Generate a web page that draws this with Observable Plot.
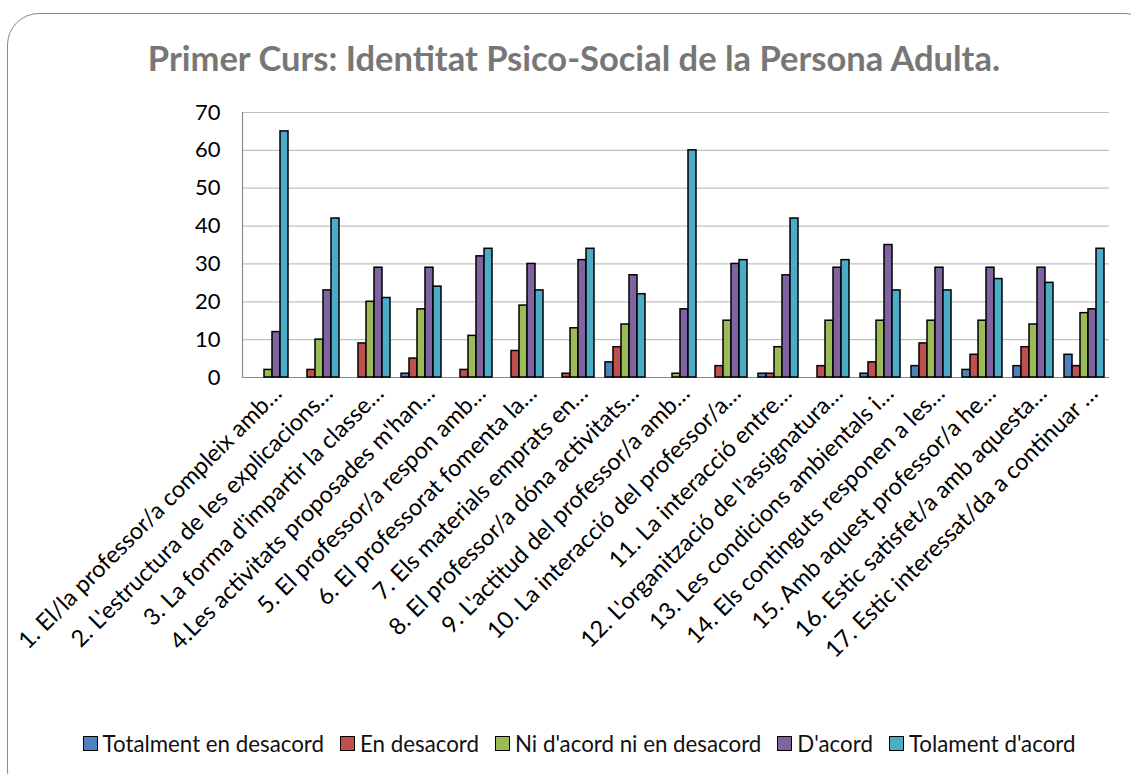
<!DOCTYPE html>
<html>
<head>
<meta charset="utf-8">
<script src="https://cdn.jsdelivr.net/npm/d3@7"></script>
<script src="https://cdn.jsdelivr.net/npm/@observablehq/plot@0.6"></script>
<style>
  html, body { margin: 0; padding: 0; background: #fff; }
  body { width: 1131px; height: 774px; position: relative; overflow: hidden; font-family: Lato, "Open Sans", sans-serif; }
  #box { position: absolute; left: 7px; top: 13px; width: 1150px; height: 790px; border: 1.5px solid #8a8a8a; border-radius: 32px; box-sizing: border-box; }
  #title { position: absolute; left: 0; width: 1148px; top: 40px; line-height: 36px; text-align: center; font-size: 34.5px; font-weight: bold; color: #777; white-space: nowrap; }
  #chart { position: absolute; left: 0; top: 90px; }
  #legend { position: absolute; left: 0; width: 1158px; top: 730px; display: flex; justify-content: center; align-items: center; font-size: 22.3px; color: #111; white-space: nowrap; }
  .item { display: flex; align-items: center; margin: 0 8px; }
  .sw { width: 13px; height: 13px; border: 1.5px solid #000; margin-right: 5px; }
</style>
</head>
<body>
<div id="box"></div>
<div id="title">Primer Curs: Identitat Psico-Social de la Persona Adulta.</div>
<div id="chart"></div>
<div id="legend"></div>
<script>
const questions = [
  "1. El/la professor/a compleix amb…",
  "2. L'estructura de les explicacions…",
  "3. La forma d'impartir la classe…",
  "4.Les activitats proposades m'han…",
  "5. El professor/a respon amb…",
  "6. El professorat fomenta la…",
  "7. Els materials emprats en…",
  "8. El professor/a dóna activitats…",
  "9. L'actitud del professor/a amb…",
  "10. La interacció del professor/a…",
  "11. La interacció entre…",
  "12. L'organització de l'assignatura…",
  "13. Les condicions ambientals i…",
  "14. Els continguts responen a les…",
  "15. Amb aquest professor/a he…",
  "16. Estic satisfet/a amb aquesta…",
  "17. Estic interessat/da a continuar …"
];
const series = ["Totalment en desacord", "En desacord", "Ni d'acord ni en desacord", "D'acord", "Tolament d'acord"];
const totalmentDesacord = [0, 0, 0, 1, 0, 0, 0, 4, 0, 0, 1, 0, 1, 3, 2, 3, 6];
const enDesacord        = [0, 2, 9, 5, 2, 7, 1, 8, 0, 3, 1, 3, 4, 9, 6, 8, 3];
const niAcordNiDesacord = [2, 10, 20, 18, 11, 19, 13, 14, 1, 15, 8, 15, 15, 15, 15, 14, 17];
const dAcord            = [12, 23, 29, 29, 32, 30, 31, 27, 18, 30, 27, 29, 35, 29, 29, 29, 18];
const tolamentDAcord    = [65, 42, 21, 24, 34, 23, 34, 22, 60, 31, 42, 31, 23, 23, 26, 25, 34];
const colors = ["#4f81bd", "#c0504d", "#9bbb59", "#8064a2", "#4bacc6"];
const yTicks = [0, 10, 20, 30, 40, 50, 60, 70];

const seriesValues = [totalmentDesacord, enDesacord, niAcordNiDesacord, dAcord, tolamentDAcord];
const data = [];
questions.forEach((q, i) => {
  series.forEach((s, j) => data.push({q, s, v: seriesValues[j][i]}));
});

const chart = Plot.plot({
  width: 1131,
  height: 620,
  marginTop: 22,
  marginLeft: 237,
  marginRight: 18,
  marginBottom: 333,
  style: {fontFamily: "Lato, 'Open Sans', sans-serif", color: "#000", background: "transparent"},
  fx: {domain: questions, padding: 0, label: null},
  x: {domain: series, paddingInner: 0, paddingOuter: 0.6, axis: null},
  y: {domain: [0, 70], label: null},
  color: {domain: series, range: colors},
  marks: [
    Plot.gridY(yTicks, {stroke: "#c0c0c0", strokeOpacity: 1, strokeWidth: 1.2}),
    Plot.ruleY([0], {stroke: "#8a8a8a", strokeWidth: 1.2}),
    Plot.frame({anchor: "left", facetAnchor: "left", stroke: "#8a8a8a", strokeWidth: 1.2}),
    Plot.barY(data, {fx: "q", x: "s", y: "v", fill: "s", stroke: "#000", strokeWidth: 1.5}),
    Plot.axisY(yTicks, {tickSize: 0, tickPadding: 22, fontSize: 22, label: null}),
    Plot.axisFx({anchor: "bottom", tickRotate: -45, tickSize: 0, tickPadding: 6, fontSize: 23.5, label: null, dx: 10, dy: 6})
  ]
});
document.getElementById("chart").appendChild(chart);

const legend = document.getElementById("legend");
series.forEach((s, j) => {
  const it = document.createElement("div");
  it.className = "item";
  const sw = document.createElement("div");
  sw.className = "sw";
  sw.style.background = colors[j];
  const t = document.createElement("span");
  t.textContent = s;
  it.appendChild(sw);
  it.appendChild(t);
  legend.appendChild(it);
});
</script>
</body>
</html>
